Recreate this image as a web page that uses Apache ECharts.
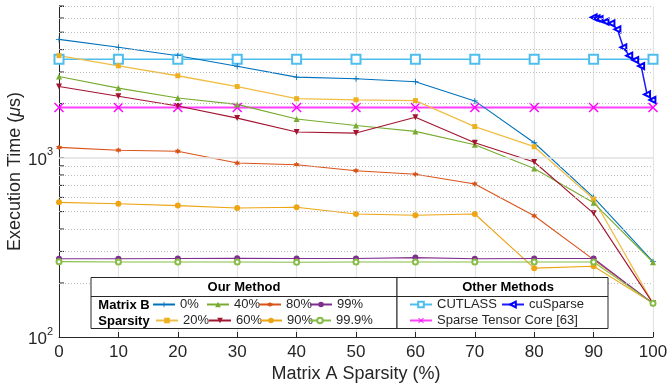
<!DOCTYPE html>
<html>
<head>
<meta charset="utf-8">
<script src="https://cdn.jsdelivr.net/npm/echarts@6/dist/echarts.min.js"></script>
<style>html,body{margin:0;padding:0;background:#fff;}#c{width:667px;height:385px;}</style>
</head>
<body>
<div id="c"></div>
<script>
// ---- data ----
const sparsityA = [0, 10, 20, 30, 40, 50, 60, 70, 80, 90, 100];
const ours0   = [4560, 4120, 3700, 3230, 2810, 2750, 2650, 2070, 1210, 600, 263];
const ours20  = [3700, 3250, 2860, 2490, 2130, 2100, 2080, 1490, 1150, 588, 154];
const ours40  = [2830, 2440, 2150, 1980, 1640, 1510, 1400, 1180, 870, 560, 261];
const ours60  = [2490, 2200, 1940, 1660, 1390, 1370, 1680, 1210, 945, 489, 154];
const ours80  = [1140, 1100, 1085, 933, 913, 845, 807, 713, 474, 270, 154];
const ours90  = [563, 553, 540, 524, 529, 485, 477, 485, 242, 248, 154];
const ours99  = [273, 273, 274, 275, 274, 274, 277, 273, 274, 274, 154];
const ours999 = [263, 262, 262, 262, 261, 262, 262, 262, 262, 262, 154];
const cutlass = [3530, 3530, 3530, 3530, 3530, 3530, 3530, 3530, 3530, 3530, 3530];
const stc     = [1900, 1900, 1900, 1900, 1900, 1900, 1900, 1900, 1900, 1900, 1900];
const cuSparseX = [90, 90.5, 91, 92, 93, 94, 95, 96, 97, 98, 99, 99.9];
const cuSparseY = [6050, 5980, 5920, 5720, 5600, 5190, 4120, 3700, 3500, 3240, 2250, 2095];
const majorGrid = [1000];
const minorGrid = [200, 300, 400, 500, 600, 700, 800, 900, 2000, 3000, 4000, 5000, 6000, 7000];
const xTicks = [0, 10, 20, 30, 40, 50, 60, 70, 80, 90, 100];

const FONT = 'Liberation Sans';
const TXT = '#262626';

function pair(xs, ys) { return xs.map((x, i) => [x, ys[i]]); }

const plusPath = 'path://M4.3,0h1.4v10h-1.4z M0,4.3h10v1.4h-10z';
const xPath = 'path://M1,0 L5,4 L9,0 L10,1 L6,5 L10,9 L9,10 L5,6 L1,10 L0,9 L4,5 L0,1 Z';
const hexPath = 'path://M5,0 L6.3,2.7 L9.3,2.5 L7.6,5 L9.3,7.5 L6.3,7.3 L5,10 L3.7,7.3 L0.7,7.5 L2.4,5 L0.7,2.5 L3.7,2.7 Z';

function lineSeries(name, data, color, symbol, size, extra) {
  return Object.assign({
    name: name, type: 'line', data: data, z: 3,
    symbol: symbol, symbolSize: size, showAllSymbol: true,
    lineStyle: { color: color, width: 1.1 },
    itemStyle: { color: color },
    emphasis: { disabled: true }
  }, extra || {});
}

const series = [
  {
    name: 'ticks', type: 'custom', z: 1, silent: true,
    data: minorGrid.map(v => [0, v]),
    renderItem: function (params, api) {
      const p = api.coord([0, api.value(1)]);
      return { type: 'line', shape: { x1: p[0], y1: p[1], x2: p[0] + 5, y2: p[1] },
               style: { stroke: TXT, lineWidth: 1 } };
    },
    markLine: {
      silent: true, symbol: 'none', label: { show: false }, animation: false,
      data: minorGrid.map(v => ({ yAxis: v, lineStyle: { color: '#bdbdbd', type: [1, 2], width: 1 } }))
        .concat(majorGrid.map(v => ({ yAxis: v, lineStyle: { color: '#e0e0e0', type: 'solid', width: 1.5 } })))
    }
  },
  lineSeries('CUTLASS', pair(sparsityA, cutlass), '#4DBEEE', 'emptyRect', 9, { lineStyle: { color: '#4DBEEE', width: 1.5 }, itemStyle: { color: '#4DBEEE', borderWidth: 1.5 } }),
  lineSeries('Sparse Tensor Core [63]', pair(sparsityA, stc), '#FF00FF', xPath, 10, { lineStyle: { color: '#FF40FF', width: 2 } }),
  lineSeries('0%', pair(sparsityA, ours0), '#0072BD', plusPath, 6),
  lineSeries('20%', pair(sparsityA, ours20), '#EDB120', 'rect', 5, { lineStyle: { color: '#F0BE45', width: 1.3 } }),
  lineSeries('40%', pair(sparsityA, ours40), '#77AC30', 'triangle', 6),
  lineSeries('60%', pair(sparsityA, ours60), '#A2142F', 'triangle', 6, { symbolRotate: 180 }),
  lineSeries('80%', pair(sparsityA, ours80), '#D95319', hexPath, 6),
  lineSeries('90%', pair(sparsityA, ours90), '#EDA514', 'circle', 6),
  lineSeries('99%', pair(sparsityA, ours99), '#7E2F8E', 'circle', 6),
  lineSeries('99.9%', pair(sparsityA, ours999), '#86BD45', 'emptyCircle', 5, { itemStyle: { color: '#86BD45', borderWidth: 1 } }),
  lineSeries('cuSparse', pair(cuSparseX, cuSparseY), '#0000FF', 'emptyTriangle', 6, { symbolRotate: 90, lineStyle: { color: '#1a1aff', width: 1.5 }, itemStyle: { color: '#0000FF', borderWidth: 1.1 } })
];

// legend entries: [name, text start x, row center y]
const legendEntries = [
  ['0%', 179, 305], ['40%', 233, 305], ['80%', 285, 305], ['99%', 336, 305],
  ['20%', 182, 321], ['60%', 235, 321], ['90%', 286, 321], ['99.9%', 335, 321],
  ['CUTLASS', 436, 305], ['cuSparse', 528, 305], ['Sparse Tensor Core [63]', 436, 321]
];
const legends = legendEntries.map(e => ({
  data: [e[0]], left: e[1] - 5 - 22, top: e[2] - 7, padding: 0, z: 110,
  itemWidth: 22, itemHeight: 7, selectedMode: false,
  textStyle: { fontSize: 13, color: TXT, fontFamily: FONT }
}));

const option = {
  animation: false,
  backgroundColor: '#fff',
  textStyle: { fontFamily: FONT },
  grid: { left: 59, right: 14, top: 6, bottom: 48, containLabel: false, outerBoundsMode: 'none' },
  xAxis: {
    type: 'value', min: 0, max: 100, interval: 10,
    name: 'Matrix A Sparsity (%)', nameLocation: 'middle', nameGap: 28, nameMoveOverlap: false,
    nameTextStyle: { fontSize: 18, color: TXT, fontFamily: FONT },
    axisLine: { lineStyle: { color: TXT, width: 1 } },
    axisTick: { inside: true, length: 5, lineStyle: { color: TXT } },
    axisLabel: { fontSize: 17, color: TXT, margin: 7, fontFamily: FONT },
    splitLine: { show: true, lineStyle: { color: '#e3e3e3', width: 1.2 } }
  },
  yAxis: {
    type: 'log', logBase: 10, min: 100, max: 7000,
    name: 'Execution Time ({i|μ}s)', nameLocation: 'middle', nameGap: 35, nameMoveOverlap: false,
    nameTextStyle: { fontSize: 18, color: TXT, fontFamily: FONT,
      rich: { i: { fontSize: 18, fontStyle: 'italic', color: TXT, fontFamily: FONT } } },
    axisLine: { show: true, lineStyle: { color: TXT, width: 1 } },
    axisTick: { inside: true, length: 5, lineStyle: { color: TXT } },
    axisLabel: {
      margin: 6, color: TXT,
      formatter: function (v) {
        const e = Math.log10(v);
        if (Math.abs(e - Math.round(e)) < 1e-6) return '{b|10}{s|' + Math.round(e) + '}';
        return '';
      },
      rich: {
        b: { fontSize: 17, lineHeight: 22, verticalAlign: 'bottom', color: TXT, fontFamily: FONT },
        s: { fontSize: 11, lineHeight: 8, verticalAlign: 'top', color: TXT, fontFamily: FONT }
      }
    },
    splitLine: { show: false }
  },
  legend: legends,
  graphic: [
    { type: 'rect', z: 100, shape: { x: 91, y: 277.5, width: 306, height: 51 },
      style: { fill: '#fff', stroke: TXT, lineWidth: 1 } },
    { type: 'rect', z: 100, shape: { x: 397, y: 277.5, width: 211, height: 51 },
      style: { fill: '#fff', stroke: TXT, lineWidth: 1 } },
    { type: 'line', z: 101, shape: { x1: 91, y1: 296.5, x2: 608, y2: 296.5 },
      style: { stroke: TXT, lineWidth: 1 } },
    { type: 'text', z: 101, style: { x: 244, y: 287, text: 'Our Method', fontSize: 13, fontWeight: 'bold', fill: '#000', fontFamily: FONT, align: 'center', verticalAlign: 'middle' } },
    { type: 'text', z: 101, style: { x: 508, y: 287, text: 'Other Methods', fontSize: 13, fontWeight: 'bold', fill: '#000', fontFamily: FONT, align: 'center', verticalAlign: 'middle' } },
    { type: 'text', z: 101, style: { x: 124, y: 305, text: 'Matrix B', fontSize: 13, fontWeight: 'bold', fill: '#000', fontFamily: FONT, align: 'center', verticalAlign: 'middle' } },
    { type: 'text', z: 101, style: { x: 124, y: 321, text: 'Sparsity', fontSize: 13, fontWeight: 'bold', fill: '#000', fontFamily: FONT, align: 'center', verticalAlign: 'middle' } }
  ],
  series: series
};

const chart = echarts.init(document.getElementById('c'), null, { renderer: 'canvas' });
chart.setOption(option);
</script>
</body>
</html>
